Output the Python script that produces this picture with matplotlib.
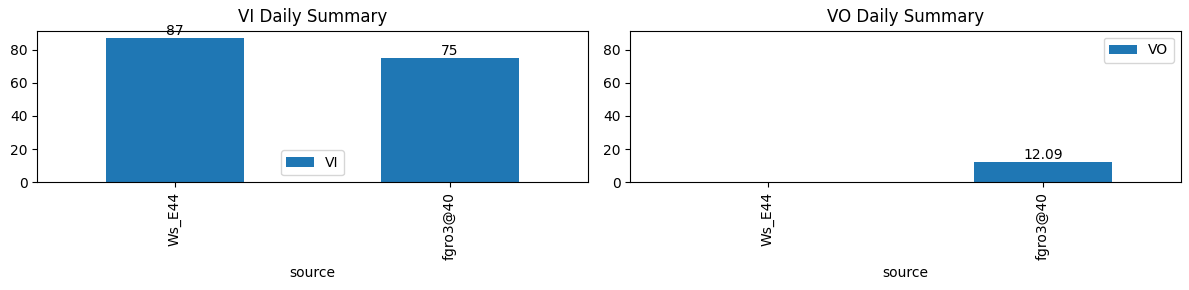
"""
VI / VO daily summary per source.
"""

import matplotlib
matplotlib.use("Agg")
import matplotlib.pyplot as plt
import numpy as np
import pandas as pd

sources = ["Ws_E44", "fgro3@40"]
vi_values = [87, 75]
vo_values = [np.nan, 12.09]


def fmt_labels(values):
    # missing values get no label
    return ["" if pd.isna(v) else f"{v:g}" for v in values]


def plot_summary():
    df = pd.DataFrame({"VI": vi_values, "VO": vo_values}, index=pd.Index(sources, name="source"))

    fig, axes = plt.subplots(1, 2, figsize=(11.89, 2.9), dpi=100)

    ax = axes[0]
    df[["VI"]].plot.bar(ax=ax)
    ax.set_title("VI Daily Summary")
    ax.bar_label(ax.containers[0], labels=fmt_labels(vi_values))
    ylim = ax.get_ylim()

    ax = axes[1]
    df[["VO"]].plot.bar(ax=ax)
    ax.set_title("VO Daily Summary")
    ax.bar_label(ax.containers[0], labels=fmt_labels(vo_values))
    ax.set_ylim(ylim)

    plt.subplots_adjust(left=0.0314, right=0.993, top=0.894, bottom=0.371, wspace=0.0775)
    plt.savefig("out.png", dpi=100)


if __name__ == "__main__":
    plot_summary()
